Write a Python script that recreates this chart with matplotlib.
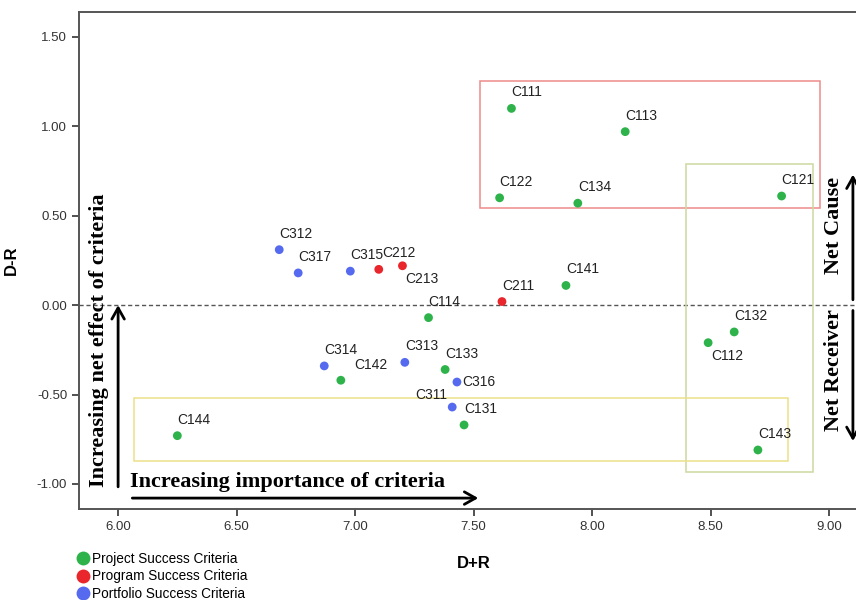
import matplotlib
matplotlib.use('Agg')
import matplotlib.pyplot as plt
from matplotlib.patches import Rectangle
from matplotlib.lines import Line2D

# criteria groups: (label, D+R, D-R)
project_labels = ['C111', 'C113', 'C122', 'C134', 'C121', 'C141', 'C114', 'C133',
                  'C131', 'C132', 'C112', 'C143', 'C142', 'C144']
project_x = [7.66, 8.14, 7.61, 7.94, 8.80, 7.89, 7.31, 7.38, 7.46, 8.60, 8.49, 8.70, 6.94, 6.25]
project_y = [1.10, 0.97, 0.60, 0.57, 0.61, 0.11, -0.07, -0.36, -0.67, -0.15, -0.21, -0.81, -0.42, -0.73]

program_labels = ['C212', 'C213', 'C211']
program_x = [7.10, 7.20, 7.62]
program_y = [0.20, 0.22, 0.02]

portfolio_labels = ['C312', 'C317', 'C315', 'C314', 'C313', 'C316', 'C311']
portfolio_x = [6.68, 6.76, 6.98, 6.87, 7.21, 7.43, 7.41]
portfolio_y = [0.31, 0.18, 0.19, -0.34, -0.32, -0.43, -0.57]

# label placement (pixels) where it differs from the default (up 16px)
label_offsets = {
    'C316': (5, 0, 'left'),
    'C311': (-5, 12, 'right'),
    'C112': (3, -13, 'left'),
    'C142': (13, 15, 'left'),
    'C213': (3, -13, 'left'),
    'C212': (3, 16, 'left'),
}

green = '#2db34a'
red = '#e8262b'
blue = '#566af0'

plt.rcParams['font.family'] = ['Liberation Sans', 'DejaVu Sans']

fig = plt.figure(figsize=(8.56, 6.0), dpi=100)
ax = fig.add_axes([79 / 856, 1 - 509 / 600, 1 - 79 / 856, (509 - 12) / 600])
ax.set_xlim(5.835, 9.114)
ax.set_ylim(-1.14, 1.639)

for side in ['left', 'bottom', 'top']:
    ax.spines[side].set_color('#555555')
    ax.spines[side].set_linewidth(1.4)
ax.spines['right'].set_visible(False)

ax.set_xticks([6.0, 6.5, 7.0, 7.5, 8.0, 8.5, 9.0])
ax.set_yticks([-1.0, -0.5, 0.0, 0.5, 1.0, 1.5])
ax.xaxis.set_major_formatter(matplotlib.ticker.FormatStrFormatter('%.2f'))
ax.yaxis.set_major_formatter(matplotlib.ticker.FormatStrFormatter('%.2f'))
ax.tick_params(labelsize=9.5, colors='#333333', length=5, width=1.2, direction='out')
ax.tick_params(axis='x', pad=4)

ax.set_xlabel('D+R', fontsize=12, fontweight='bold')
ax.set_ylabel('D-R', fontsize=12, fontweight='bold')
ax.xaxis.set_label_coords(0.508, -0.095)
ax.yaxis.set_label_coords(-0.078, 0.5)

ax.axhline(0, color='#555555', lw=1, ls=(0, (3, 2)), zorder=1)

# grouping boxes
ax.add_patch(Rectangle((7.526, 0.542), 8.962 - 7.526, 1.254 - 0.542,
                       fill=False, ec='#ee8a8a', lw=1.1))
ax.add_patch(Rectangle((8.398, -0.933), 8.933 - 8.398, 0.791 + 0.933,
                       fill=False, ec='#cdd8a0', lw=1.1))
ax.add_patch(Rectangle((6.068, -0.874), 8.827 - 6.068, 0.874 - 0.518,
                       fill=False, ec='#ece08a', lw=1.1))

groups = [(project_labels, project_x, project_y, green),
          (program_labels, program_x, program_y, red),
          (portfolio_labels, portfolio_x, portfolio_y, blue)]
for labels, xs, ys, c in groups:
    ax.scatter(xs, ys, s=40, color=c, edgecolors='none', zorder=3)
    for lab, x, y in zip(labels, xs, ys):
        dx, dy, ha = label_offsets.get(lab, (0, 16, 'left'))
        ax.annotate(lab, (x, y), xytext=(dx, dy), textcoords='offset pixels',
                    ha=ha, va='center', fontsize=10, color='#222222', zorder=4)

# direction arrows and notes
serif = {'family': 'Liberation Serif', 'weight': 'bold', 'size': 16}
arrow = dict(arrowstyle='->,head_length=0.8,head_width=0.45', lw=2, color='black',
             shrinkA=0, shrinkB=0)
ax.annotate('', xy=(7.52, -1.079), xytext=(6.06, -1.079), arrowprops=arrow)
ax.annotate('', xy=(6.0, 0.0), xytext=(6.0, -1.016), arrowprops=arrow)
ax.text(6.05, -0.99, 'Increasing importance of criteria', fontdict=serif,
        ha='left', va='center')
ax.text(5.918, -0.196, 'Increasing net effect of criteria', fontdict=serif,
        rotation=90, ha='center', va='center')

ax.annotate('', xy=(9.101, 0.73), xytext=(9.101, 0.03), arrowprops=arrow)
ax.annotate('', xy=(9.101, -0.76), xytext=(9.101, -0.03), arrowprops=arrow)
ax.text(9.02, 0.447, 'Net Cause', fontdict=serif, rotation=90, ha='center', va='center')
ax.text(9.02, -0.364, 'Net Receiver', fontdict=serif, rotation=90, ha='center', va='center')

handles = [Line2D([], [], ls='none', marker='o', markersize=10, color=c, mec='none')
           for c in (green, red, blue)]
fig.legend(handles, ['Project Success Criteria', 'Program Success Criteria',
                     'Portfolio Success Criteria'],
           loc='upper left', bbox_to_anchor=(78 / 856, 1 - 552 / 600), frameon=False,
           fontsize=9.8, handlelength=0.8, handletextpad=0.2, labelspacing=0.25,
           borderpad=0, borderaxespad=0)

fig.savefig('out.png', dpi=100)
